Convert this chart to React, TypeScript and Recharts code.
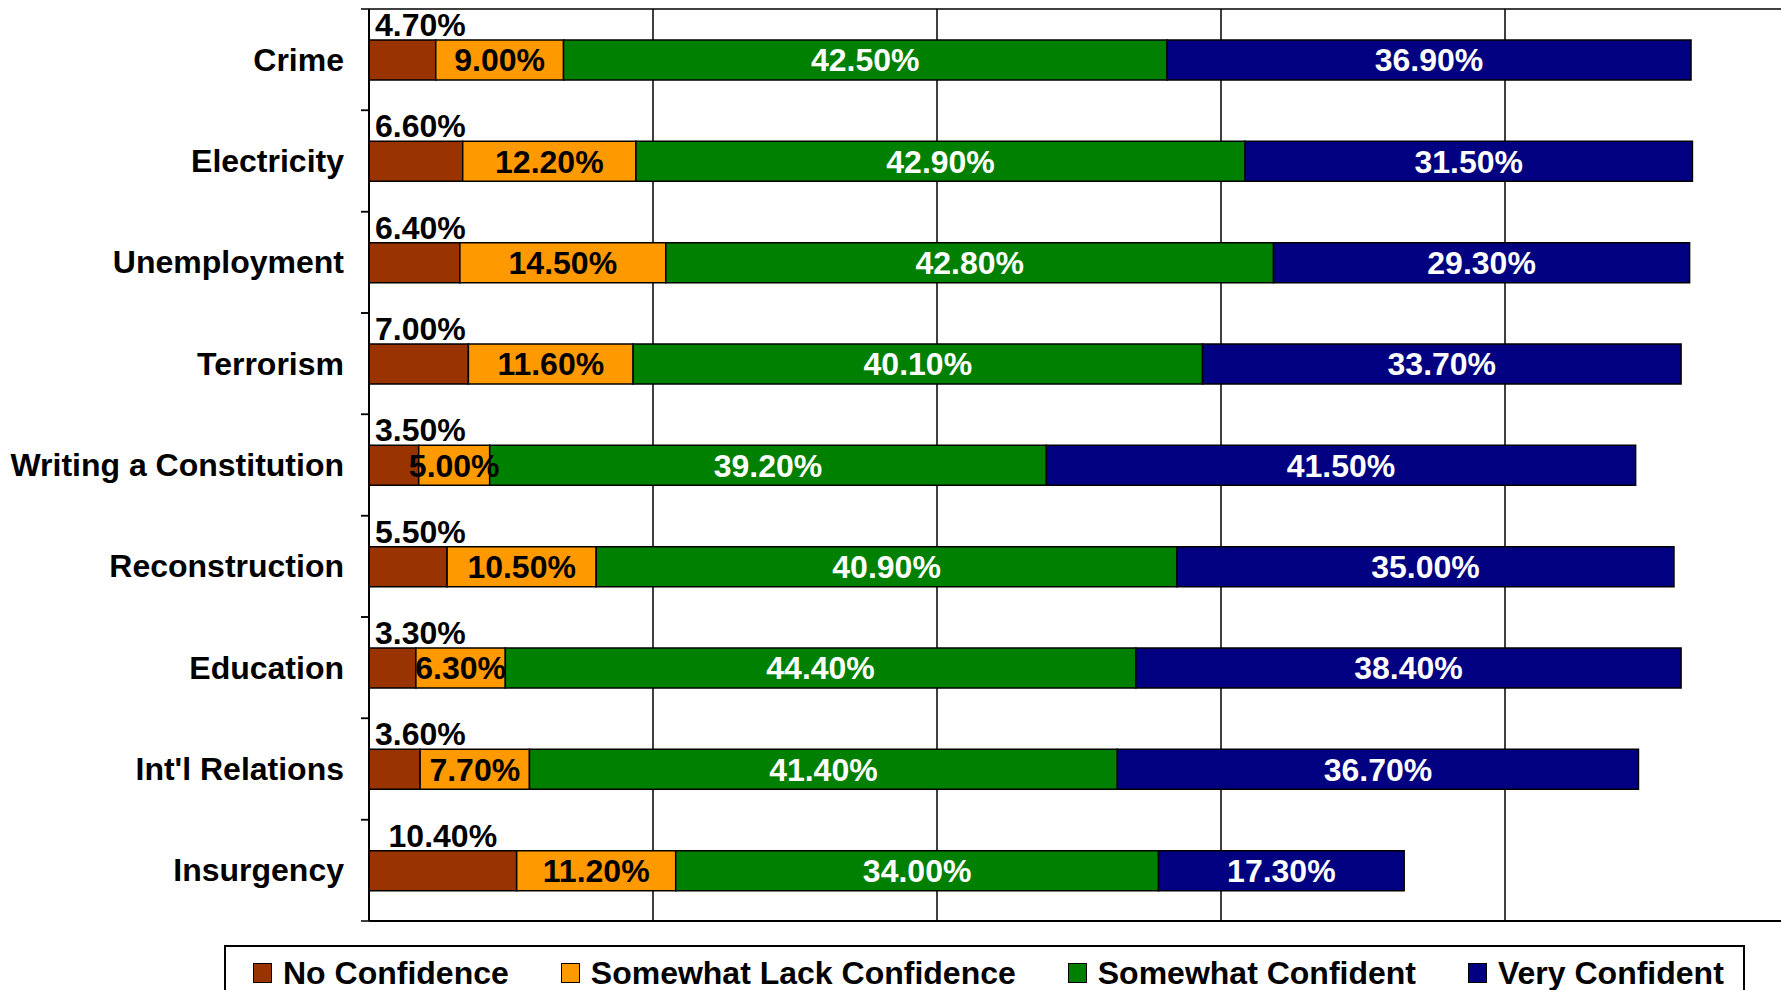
import React from 'react';
import { BarChart, Bar, XAxis, YAxis, CartesianGrid, LabelList } from 'recharts';

const categories = [
  'Crime',
  'Electricity',
  'Unemployment',
  'Terrorism',
  'Writing a Constitution',
  'Reconstruction',
  'Education',
  "Int'l Relations",
  'Insurgency',
];
const noConfidence = [4.7, 6.6, 6.4, 7.0, 3.5, 5.5, 3.3, 3.6, 10.4];
const lackConfidence = [9.0, 12.2, 14.5, 11.6, 5.0, 10.5, 6.3, 7.7, 11.2];
const somewhatConfident = [42.5, 42.9, 42.8, 40.1, 39.2, 40.9, 44.4, 41.4, 34.0];
const veryConfident = [36.9, 31.5, 29.3, 33.7, 41.5, 35.0, 38.4, 36.7, 17.3];
const xTicks = [0, 20, 40, 60, 80, 100];

const series = [
  { key: 'none', name: 'No Confidence', color: '#993300', labelColor: '#000', values: noConfidence },
  { key: 'lack', name: 'Somewhat Lack Confidence', color: '#FF9900', labelColor: '#000', values: lackConfidence },
  { key: 'somewhat', name: 'Somewhat Confident', color: '#008000', labelColor: '#fff', values: somewhatConfident },
  { key: 'very', name: 'Very Confident', color: '#000080', labelColor: '#fff', values: veryConfident },
];

const data = categories.map((name, i) => {
  const row: Record<string, string | number> = { name };
  series.forEach((s) => {
    row[s.key] = s.values[i];
  });
  return row;
});

const FONT = '"Liberation Sans", Arial, Helvetica, sans-serif';
const FONT_SIZE = 32;
const CHART_W = 1800;
const CHART_H = 990;
const MARGIN = { top: 8, right: 11, bottom: 68, left: 0 };
const BAND = (CHART_H - MARGIN.top - MARGIN.bottom - 2) / categories.length;

const fmt = (v: any) => `${Number(v).toFixed(2)}%`;

// rough Arial bold width, used to keep the small labels off the axis
const textWidth = (s: string) => {
  let w = 0;
  for (const ch of s) w += ch === '.' ? 0.278 : ch === '%' ? 0.889 : 0.556;
  return w * FONT_SIZE;
};

const CategoryTick = (props: any) => {
  const { x, y, payload } = props;
  const ax = x + 25;
  return (
    <g>
      <line x1={ax - 8} x2={ax} y1={y - BAND / 2} y2={y - BAND / 2} stroke="#000" strokeWidth={1.5} />
      <line x1={ax - 8} x2={ax} y1={y + BAND / 2} y2={y + BAND / 2} stroke="#000" strokeWidth={1.5} />
      <text
        x={x}
        y={y}
        textAnchor="end"
        dominantBaseline="central"
        fontFamily={FONT}
        fontWeight="bold"
        fontSize={FONT_SIZE}
        fill="#000"
      >
        {payload.value}
      </text>
    </g>
  );
};

const TopLabel = (props: any) => {
  const { x, y, width, value } = props;
  const label = fmt(value);
  const half = textWidth(label) / 2;
  const cx = Math.max(x + width / 2, x + 6 + half);
  return (
    <text
      x={cx}
      y={y - 4}
      textAnchor="middle"
      fontFamily={FONT}
      fontWeight="bold"
      fontSize={FONT_SIZE}
      fill="#000"
    >
      {label}
    </text>
  );
};

const NoTick = () => <g />;

const App = () => {
  return (
    <div
      style={{
        position: 'absolute',
        left: 0,
        top: 0,
        width: 1781,
        height: 990,
        overflow: 'hidden',
        background: '#fff',
      }}
    >
      <BarChart width={CHART_W} height={CHART_H} data={data} layout="vertical" margin={MARGIN}>
        <CartesianGrid horizontal={false} stroke="#000" strokeWidth={1.5} />
        <XAxis
          type="number"
          domain={[0, 100]}
          ticks={xTicks}
          height={1}
          tick={<NoTick />}
          tickLine={false}
          axisLine={{ stroke: '#000', strokeWidth: 2 }}
        />
        <XAxis
          xAxisId="top"
          orientation="top"
          type="number"
          domain={[0, 100]}
          ticks={xTicks}
          height={1}
          tick={<NoTick />}
          tickLine={false}
          axisLine={{ stroke: '#000', strokeWidth: 1.5 }}
        />
        <YAxis
          type="category"
          dataKey="name"
          width={369}
          tickSize={0}
          tickMargin={25}
          tickLine={false}
          interval={0}
          axisLine={{ stroke: '#000', strokeWidth: 2 }}
          tick={<CategoryTick />}
        />
        {series.map((s) => (
          <Bar
            key={s.key}
            dataKey={s.key}
            name={s.name}
            stackId="a"
            fill={s.color}
            stroke="#000"
            strokeWidth={1.5}
            barSize={40}
            isAnimationActive={false}
          >
            {s.key === 'none' ? (
              <LabelList dataKey={s.key} content={<TopLabel />} />
            ) : (
              <LabelList
                dataKey={s.key}
                position="center"
                formatter={fmt}
                fill={s.labelColor}
                stroke="none"
                style={{ fontFamily: FONT, fontWeight: 'bold', fontSize: FONT_SIZE }}
              />
            )}
          </Bar>
        ))}
      </BarChart>
      <div
        style={{
          position: 'absolute',
          left: 224,
          top: 945,
          width: 1521,
          height: 70,
          boxSizing: 'border-box',
          border: '2px solid #000',
          display: 'flex',
          alignItems: 'flex-start',
          paddingLeft: 27,
          paddingTop: 7,
          fontFamily: FONT,
          fontWeight: 'bold',
          fontSize: FONT_SIZE,
          lineHeight: '38px',
          color: '#000',
          whiteSpace: 'nowrap',
        }}
      >
        {series.map((s) => (
          <div key={s.key} style={{ display: 'flex', alignItems: 'center', marginRight: 52, flexShrink: 0 }}>
            <span
              style={{
                display: 'inline-block',
                width: 19,
                height: 20,
                boxSizing: 'border-box',
                background: s.color,
                border: '1.5px solid #000',
                marginRight: 11,
                flexShrink: 0,
              }}
            />
            <span>{s.name}</span>
          </div>
        ))}
      </div>
    </div>
  );
};

export default App;
